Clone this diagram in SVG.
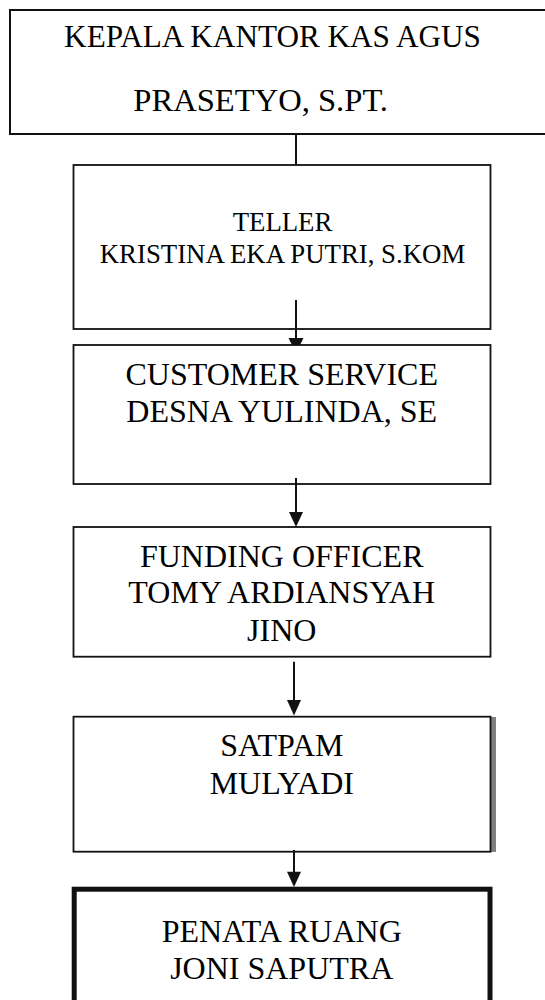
<svg xmlns="http://www.w3.org/2000/svg" width="545" height="1000" viewBox="0 0 545 1000">
  <style>
    .box { fill: #fff; stroke: #111; stroke-width: 1.8; }
    .t { font-family: "Liberation Serif", "Times New Roman", serif; font-size: 32px; fill: #000; text-anchor: middle; }
    .s { font-size: 26.8px; }
    .ln { stroke: #111; stroke-width: 2; fill: none; }
    .hd { fill: #111; stroke: none; }
  </style>
  <rect width="545" height="1000" fill="#fff"/>
  <g id="kepala">
    <rect class="box" x="10" y="10" width="560" height="124" style="stroke-width:2"/>
    <text class="t" x="272.5" y="47" style="font-size:31.2px">KEPALA KANTOR KAS AGUS</text>
    <text class="t" x="260.7" y="111" style="font-size:32.6px">PRASETYO, S.PT.</text>
  </g>
  <g id="teller">
    <rect class="box" x="73.5" y="165" width="417" height="164"/>
    <text class="t s" x="282.5" y="230.7">TELLER</text>
    <text class="t s" x="282.5" y="263.3">KRISTINA EKA PUTRI, S.KOM</text>
  </g>
  <g id="cs">
    <rect class="box" x="73.5" y="345" width="417" height="139"/>
    <text class="t" x="281.7" y="385">CUSTOMER SERVICE</text>
    <text class="t" x="281.7" y="421.7">DESNA YULINDA, SE</text>
  </g>
  <g id="funding">
    <rect class="box" x="73.5" y="527" width="417" height="129.7"/>
    <text class="t" x="281.7" y="566.7">FUNDING OFFICER</text>
    <text class="t" x="281.7" y="603.3">TOMY ARDIANSYAH</text>
    <text class="t" x="281.7" y="640.7">JINO</text>
  </g>
  <g id="satpam">
    <rect x="490.5" y="717" width="5.5" height="135" fill="#808080"/>
    <rect class="box" x="73.5" y="716.7" width="417" height="135"/>
    <text class="t" x="281.8" y="756">SATPAM</text>
    <text class="t" x="281.8" y="794">MULYADI</text>
  </g>
  <g id="penata">
    <rect class="box" x="74.2" y="889.2" width="415.8" height="140" style="stroke-width:5"/>
    <text class="t" x="281.7" y="941.7">PENATA RUANG</text>
    <text class="t" x="281.7" y="979.3">JONI SAPUTRA</text>
  </g>
  <g id="connectors">
    <line class="ln" x1="296" y1="134" x2="296" y2="165"/>
    <line class="ln" x1="296" y1="300" x2="296" y2="339"/>
    <polygon class="hd" points="288.5,338 303.5,338 300,345 292,345"/>
    <line class="ln" x1="296" y1="478" x2="296" y2="513"/>
    <polygon class="hd" points="289,512 303,512 296,527"/>
    <line class="ln" x1="294" y1="661.7" x2="294" y2="701"/>
    <polygon class="hd" points="287,700 301,700 294,715.5"/>
    <line class="ln" x1="294" y1="850" x2="294" y2="873"/>
    <polygon class="hd" points="287,871.7 301,871.7 294,887"/>
  </g>
</svg>
